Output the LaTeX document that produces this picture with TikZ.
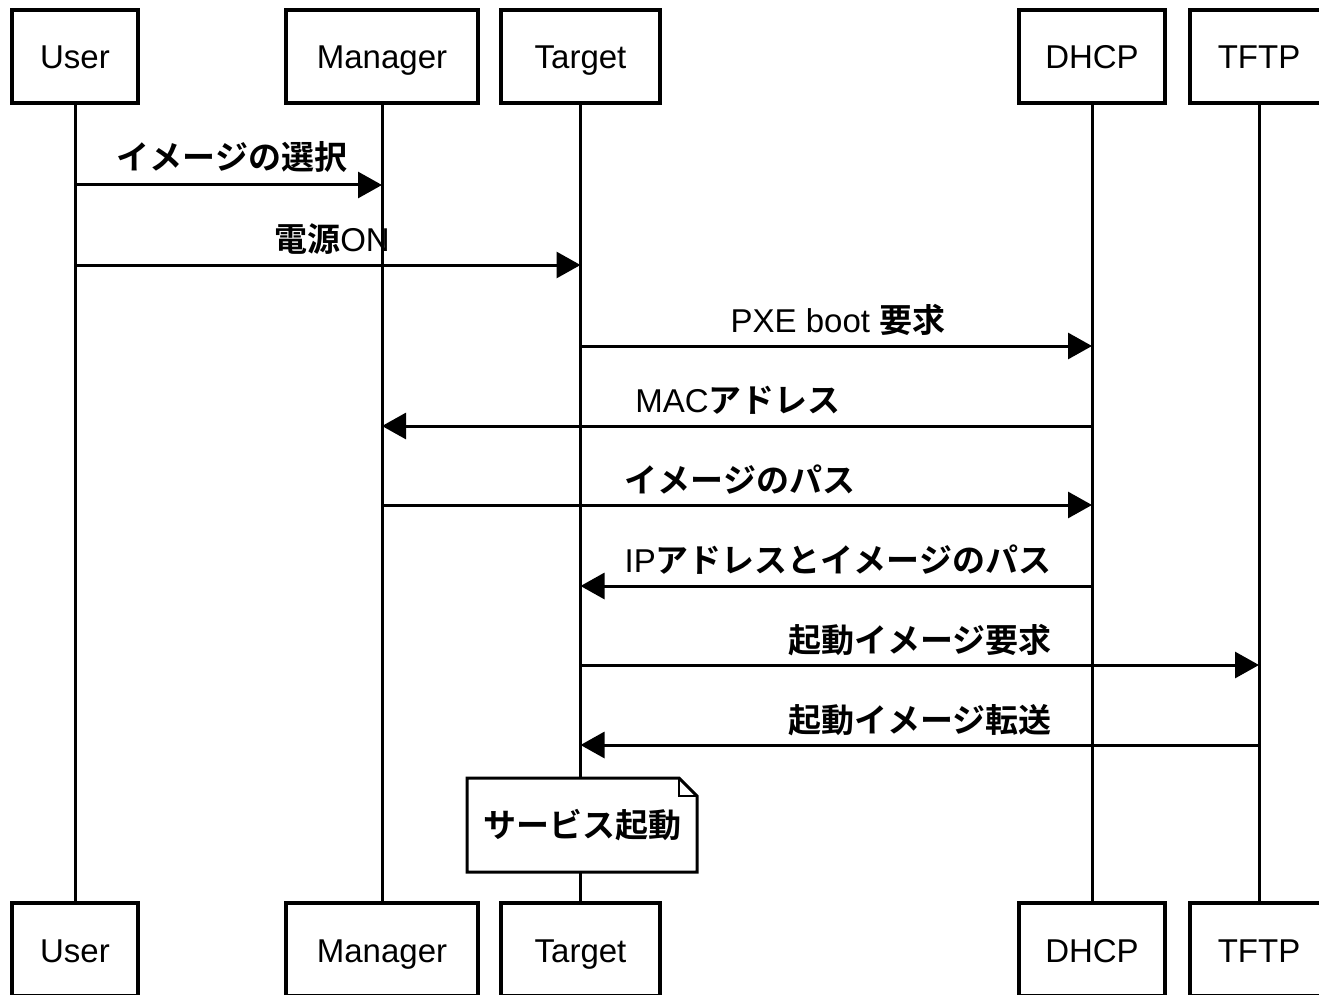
\documentclass[tikz,border=0pt]{standalone}
\usepackage{fontspec}
\setmainfont{Liberation Sans}
\newfontfamily\jp{Noto Sans CJK JP}[BoldFont={Noto Sans CJK JP Bold}]
\usetikzlibrary{arrows.meta}
\begin{document}
\begin{tikzpicture}[x=1pt,y=-1pt,
  every node/.style={font=\fontsize{33}{38}\selectfont},
  actor/.style={draw,line width=3.5pt,minimum height=93pt,inner sep=0pt,fill=white,text height=30pt,text depth=5pt},
  life/.style={line width=3pt},
  msg/.style={line width=3pt,-{Triangle[length=24pt,width=26pt]}},
  lbl/.style={inner sep=0pt,anchor=base},
  jpb/.style={font=\fontsize{33}{38}\selectfont\jp\bfseries}]
\useasboundingbox (0,0) rectangle (1319,995);
% top actors
\node[actor,minimum width=126pt] (userT) at (75,56.5) {User};
\node[actor,minimum width=192pt] (mgrT) at (382,56.5) {Manager};
\node[actor,minimum width=159pt] (tgtT) at (580.5,56.5) {Target};
\node[actor,minimum width=146pt] (dhcpT) at (1092,56.5) {DHCP};
\node[actor,minimum width=138pt] (tftpT) at (1259,56.5) {TFTP};
% bottom actors
\node[actor,minimum width=126pt] (userB) at (75,949.5) {User};
\node[actor,minimum width=192pt] (mgrB) at (382,949.5) {Manager};
\node[actor,minimum width=159pt] (tgtB) at (580.5,949.5) {Target};
\node[actor,minimum width=146pt] (dhcpB) at (1092,949.5) {DHCP};
\node[actor,minimum width=138pt] (tftpB) at (1259,949.5) {TFTP};
% lifelines
\draw[life] (userT.south) -- (userB.north);
\draw[life] (mgrT.south) -- (mgrB.north);
\draw[life] (tgtT.south) -- (tgtB.north);
\draw[life] (dhcpT.south) -- (dhcpB.north);
\draw[life] (tftpT.south) -- (tftpB.north);
% messages
\draw[msg] (userT |- 0,185) -- (mgrT |- 0,185);
\node[lbl,jpb] (m1) at (232,170) {イメージの選択};
\draw[msg] (userT |- 0,265) -- (tgtT |- 0,265);
\node[lbl] (m2) at (332,251) {{\jp\bfseries 電源}ON};
\draw[msg] (tgtT |- 0,346) -- (dhcpT |- 0,346);
\node[lbl] (m3) at (838,332) {PXE boot {\jp\bfseries 要求}};
\draw[msg] (dhcpT |- 0,426) -- (mgrT |- 0,426);
\node[lbl] (m4) at (738,412) {MAC{\jp\bfseries アドレス}};
\draw[msg] (mgrT |- 0,505) -- (dhcpT |- 0,505);
\node[lbl,jpb] (m5) at (740,492) {イメージのパス};
\draw[msg] (dhcpT |- 0,586) -- (tgtT |- 0,586);
\node[lbl] (m6) at (838,572) {IP{\jp\bfseries アドレスとイメージのパス}};
\draw[msg] (tgtT |- 0,665) -- (tftpT |- 0,665);
\node[lbl,jpb] (m7) at (920,652) {起動イメージ要求};
\draw[msg] (tftpT |- 0,745) -- (tgtT |- 0,745);
\node[lbl,jpb] (m8) at (920,732) {起動イメージ転送};
% note
\coordinate (nc) at (582,825);
\fill[white] (467,778) -- (679,778) -- (697,796) -- (697,872) -- (467,872) -- cycle;
\draw[line width=3pt,line join=miter] (467,778) -- (679,778) -- (697,796) -- (697,872) -- (467,872) -- cycle;
\draw[line width=2pt] (679,778) -- (679,796) -- (697,796);
\node[jpb,inner sep=0pt] (note) at (nc) {サービス起動};
\end{tikzpicture}
\end{document}
